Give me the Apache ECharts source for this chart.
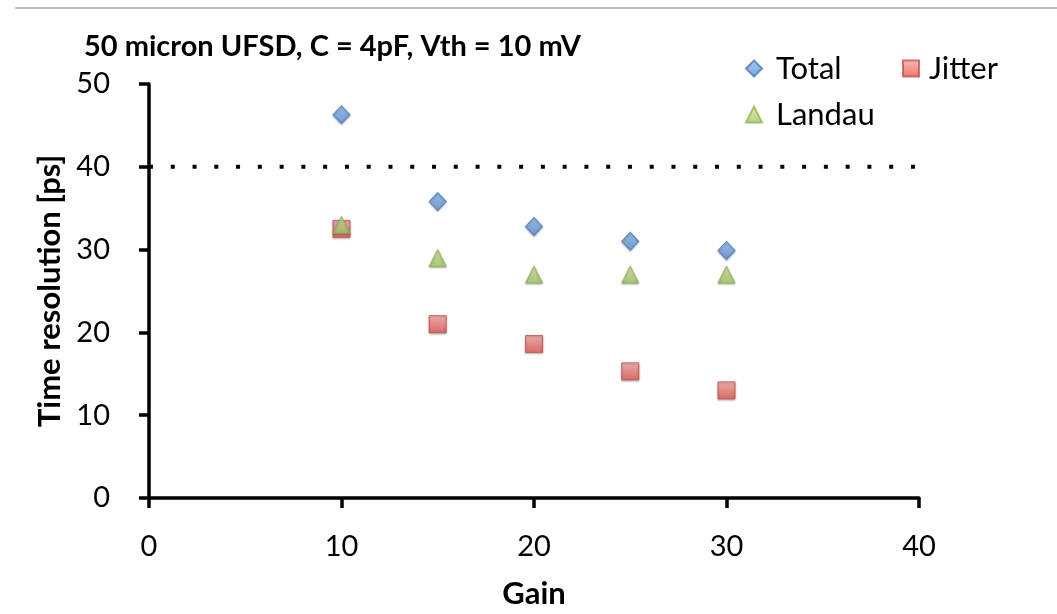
<!DOCTYPE html>
<html>
<head>
<meta charset="utf-8">
<script src="https://cdn.jsdelivr.net/npm/echarts@6/dist/echarts.min.js"></script>
<style>
  html, body { margin: 0; padding: 0; background: #fff; }
  #chart { width: 1057px; height: 614px; }
</style>
</head>
<body>
<div id="chart"></div>
<script>
// Time resolution of a 50 micron UFSD versus gain
const gain = [10, 15, 20, 25, 30];
const totalRes = [46.3, 35.8, 32.8, 31.0, 29.9];
const jitterRes = [32.5, 21.0, 18.6, 15.3, 13.0];
const landauRes = [33.0, 29.0, 27.0, 27.0, 27.0];
const targetRes = 40;          // dotted reference level
const gainRange = [0, 40];
const xTicks = [0, 10, 20, 30, 40];
const yTicks = [0, 10, 20, 30, 40, 50];
const titleText = '50 micron UFSD, C = 4pF, Vth = 10 mV';

const FONT = 'Lato';

function pairs(xs, ys) { return xs.map((x, i) => [x, ys[i]]); }
function grad(top, bottom) {
  return new echarts.graphic.LinearGradient(0, 0, 0, 1, [
    { offset: 0, color: top }, { offset: 1, color: bottom }
  ]);
}
const markerShadow = { shadowBlur: 2, shadowOffsetY: 1, shadowColor: 'rgba(0,0,0,0.35)' };

const chart = echarts.init(document.getElementById('chart'), null, { renderer: 'canvas' });

function legendAt(name, left, top, gap) {
  return {
    data: [name], left: left, top: top, padding: 0,
    orient: 'horizontal',
    itemWidth: 16,
    itemHeight: 16,
    selectedMode: false,
    textStyle: { fontFamily: FONT, fontSize: 31, color: '#000', padding: [0, 0, 0, gap] }
  };
}

chart.setOption({
  animation: false,
  backgroundColor: '#fff',
  title: {
    text: titleText,
    left: 79,
    top: 27,
    textStyle: { fontFamily: FONT, fontSize: 29, fontWeight: 'bold', color: '#000' }
  },
  legend: [
    legendAt('Total', 745, 53, 9),
    legendAt('Jitter', 902, 53, 5),
    legendAt('Landau', 745, 99, 9)
  ],
  graphic: [{
    type: 'line',
    shape: { x1: 15, y1: 8, x2: 1057, y2: 8 },
    style: { stroke: '#bdbdbd', lineWidth: 2 },
    silent: true
  }],
  grid: { left: 149, right: 138, top: 84, bottom: 110 },
  xAxis: {
    type: 'value',
    min: gainRange[0], max: gainRange[1], interval: xTicks[1] - xTicks[0],
    name: 'Gain',
    nameLocation: 'middle',
    nameGap: 80,
    nameTextStyle: { fontFamily: FONT, fontSize: 31, fontWeight: 'bold', color: '#000' },
    axisLine: { lineStyle: { color: '#000', width: 3.5 } },
    axisTick: { show: true, length: 10, lineStyle: { color: '#000', width: 3.5 } },
    axisLabel: {
      fontFamily: FONT, fontSize: 29, color: '#000', margin: 34,
      formatter: v => xTicks.includes(v) ? String(v) : ''
    },
    splitLine: { show: false }
  },
  yAxis: {
    type: 'value',
    min: 0, max: yTicks[yTicks.length - 1], interval: yTicks[1] - yTicks[0],
    name: 'Time resolution [ps]',
    nameLocation: 'middle',
    nameRotate: 90,
    nameGap: 78,
    nameTextStyle: { fontFamily: FONT, fontSize: 31, fontWeight: 'bold', color: '#000' },
    axisLine: { show: true, lineStyle: { color: '#000', width: 3.5 } },
    axisTick: { show: true, length: 10, lineStyle: { color: '#000', width: 3.5 } },
    axisLabel: { fontFamily: FONT, fontSize: 29, color: '#000', margin: 39 },
    splitLine: { show: false }
  },
  series: [
    {
      name: 'Reference',
      type: 'line',
      data: [[gainRange[0], targetRes], [gainRange[1], targetRes]],
      symbol: 'none',
      silent: true,
      lineStyle: { color: '#000', width: 4, type: [4, 17.77], cap: 'butt' },
      z: 1
    },
    {
      name: 'Total',
      type: 'scatter',
      symbol: 'diamond',
      symbolSize: [17, 18],
      data: pairs(gain, totalRes),
      itemStyle: Object.assign({ color: grad('#92bcef', '#5a8fd6'), borderColor: '#4a7cc0', borderWidth: 1 }, markerShadow),
      z: 3
    },
    {
      name: 'Jitter',
      type: 'scatter',
      symbol: 'rect',
      symbolSize: 17,
      data: pairs(gain, jitterRes),
      itemStyle: Object.assign({ color: grad('#f7aaa6', '#e2544f'), borderColor: '#c9504b', borderWidth: 1 }, markerShadow),
      z: 4
    },
    {
      name: 'Landau',
      type: 'scatter',
      symbol: 'triangle',
      symbolSize: 17,
      data: pairs(gain, landauRes),
      itemStyle: Object.assign({ color: grad('#cfe6a2', '#a2c95e'), borderColor: '#93b457', borderWidth: 1 }, markerShadow),
      z: 5
    }
  ]
});
</script>
</body>
</html>
